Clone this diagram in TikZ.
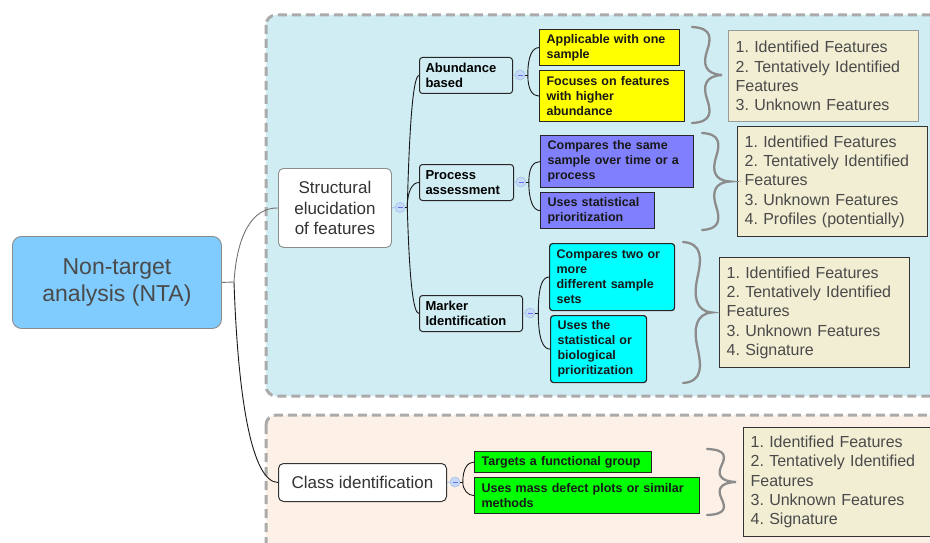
\documentclass[tikz,border=0pt]{standalone}
\usepackage{fontspec}
\setmainfont{Liberation Sans}
\usetikzlibrary{calc}
\frenchspacing
\definecolor{regblue}{HTML}{D0EDF3}
\definecolor{regpeach}{HTML}{FDF0E6}
\definecolor{rootblue}{HTML}{80CCFF}
\definecolor{beige}{HTML}{F1EED3}
\definecolor{ylw}{HTML}{FFFF00}
\definecolor{prp}{HTML}{8080FF}
\definecolor{cyn}{HTML}{00FFFF}
\definecolor{grn}{HTML}{00FF00}
\definecolor{dashgray}{HTML}{ABABAB}
\definecolor{bracegray}{HTML}{8C8C8C}
\definecolor{ctrlblue}{HTML}{C6DAF8}
\definecolor{ctrledge}{HTML}{A3BEEB}
\definecolor{txtgray}{HTML}{4A4A4A}
\newcommand\brc[4]{% x0, top, bot, width
  \draw[bracestyle]
    (#1,#2) .. controls (#1+0.68*#4,#2+0.01*#3-0.01*#2) and (#1+0.64*#4,#2+0.12*#3-0.12*#2) .. (#1+0.5*#4,#2+0.25*#3-0.25*#2)
    .. controls (#1+0.36*#4,#2+0.38*#3-0.38*#2) and (#1+0.42*#4,#2+0.49*#3-0.49*#2) .. (#1+#4,0.5*#2+0.5*#3)
    .. controls (#1+0.42*#4,#2+0.51*#3-0.51*#2) and (#1+0.36*#4,#2+0.62*#3-0.62*#2) .. (#1+0.5*#4,#2+0.75*#3-0.75*#2)
    .. controls (#1+0.64*#4,#2+0.88*#3-0.88*#2) and (#1+0.68*#4,#2+0.99*#3-0.99*#2) .. (#1,#3);}
\begin{document}
\begin{tikzpicture}[x=1pt,y=-1pt,
  region/.style={draw=dashgray, line width=3pt, dash pattern=on 9pt off 5pt, rounded corners=10pt},
  cbox/.style={anchor=north west, inner xsep=7pt, inner ysep=0pt, align=left, draw=black!85, line width=1.2pt,
     font=\bfseries\fontsize{12.5}{15}\selectfont, text=black!90},
  subbox/.style={anchor=north west, inner xsep=6pt, inner ysep=0pt, align=left, draw=black!85, line width=1pt,
     rounded corners=3pt, fill=regblue, font=\bfseries\fontsize{13}{15}\selectfont, text=black},
  result/.style={anchor=north west, inner xsep=7pt, inner ysep=0pt, align=left, fill=beige, line width=1.2pt,
     draw=black!80, font=\fontsize{16}{19.3}\selectfont, text=txtgray},
  ctrl/.style={circle, minimum size=10pt, inner sep=0pt, fill=ctrlblue, draw=ctrledge, line width=0.6pt,
     path picture={\draw[ctrledge!60!blue, line width=0.8pt] ($(path picture bounding box.center)+(-2.5,0)$) -- ($(path picture bounding box.center)+(2.5,0)$);}},
  conn/.style={draw=black!90, line width=0.9pt},
  lead/.style={draw=ctrledge, line width=0.9pt},
  bracestyle/.style={draw=bracegray, line width=2.3pt, line cap=round}]
\useasboundingbox (0,0) rectangle (930,543);
\fill[white] (0,0) rectangle (930,543);
% regions
\draw[region, fill=regblue] (266,15) rectangle (950,396);
\draw[region, fill=regpeach] (266,415) rectangle (950,570);
% main nodes
\node[anchor=north west, minimum width=209pt, minimum height=92pt, inner sep=0pt, fill=rootblue, draw=black!45, line width=0.9pt, rounded corners=9pt, align=center, text=txtgray, font=\fontsize{23}{27}\selectfont] (root) at (12,236) {Non-target\\analysis (NTA)};
\node[anchor=north west, minimum width=113pt, minimum height=79pt, inner sep=0pt, fill=white, draw=black!45, line width=0.9pt, rounded corners=5pt, align=center, text=black!80, font=\fontsize{17}{20.5}\selectfont] (struct) at (278,168) {Structural\\elucidation\\of features};
\node[anchor=north west, minimum width=168pt, minimum height=38pt, inner sep=0pt, fill=white, draw=black!80, line width=1pt, rounded corners=5pt, align=center, text=black!80, font=\fontsize{17}{20.5}\selectfont] (class) at (278,463) {Class identification};
% sub nodes
\node[subbox, text width=81pt, minimum height=36pt] (abund) at (419,57) {Abundance\\based};
\node[subbox, text width=82pt, minimum height=36pt] (proc) at (419,164) {Process\\assessment};
\node[subbox, text width=91pt, minimum height=36pt] (mark) at (419,295) {Marker\\Identification};
% coloured boxes
\node[cbox, fill=ylw, text width=126pt, minimum height=36pt] (y1) at (539,29) {Applicable with one\\sample};
\node[cbox, fill=ylw, text width=131pt, minimum height=51pt] (y2) at (539,70) {Focuses on features\\with higher\\abundance};
\node[cbox, fill=prp, text width=139pt, minimum height=52pt] (p1) at (540,135) {Compares the same\\sample over time or a\\process};
\node[cbox, fill=prp, text width=100pt, minimum height=36pt] (p2) at (540,192) {Uses statistical\\prioritization};
\node[cbox, fill=cyn, rounded corners=3pt, text width=111pt, minimum height=67pt] (c1) at (549,243) {Compares two or\\more\\different sample\\sets};
\node[cbox, fill=cyn, rounded corners=3pt, text width=82pt, minimum height=67pt] (c2) at (550,315) {Uses the\\statistical or\\biological\\prioritization};
\node[cbox, fill=grn, text width=163pt, minimum height=21pt] (g1) at (474,451) {Targets a functional group};
\node[cbox, fill=grn, text width=211pt, minimum height=36pt] (g2) at (474,477) {Uses mass defect plots or similar\\methods};
% result boxes
\node[result, draw=black!40, text width=176pt, minimum height=91pt] (r1) at (728,30) {1. Identified Features\\2. Tentatively Identified\\Features\\3. Unknown Features};
\node[result, text width=176pt, minimum height=110pt] (r2) at (737,126) {1. Identified Features\\2. Tentatively Identified\\Features\\3. Unknown Features\\4. Profiles (potentially)};
\node[result, text width=176pt, minimum height=110pt] (r3) at (719,257) {1. Identified Features\\2. Tentatively Identified\\Features\\3. Unknown Features\\4. Signature};
\node[result, text width=186pt, minimum height=109pt] (r4) at (743,427) {1. Identified Features\\2. Tentatively Identified\\Features\\3. Unknown Features\\4. Signature};
% collapse controls
\node[ctrl] (cst) at (400,207.5) {};
\node[ctrl] (cab) at (520,75) {};
\node[ctrl] (cpr) at (521,182) {};
\node[ctrl] (cmk) at (530,313) {};
\node[ctrl] (ccl) at (455,482) {};
\draw[lead] (struct.east) -- (cst.west);
\draw[lead] (abund.east) -- (cab.west);
\draw[lead] (proc.east) -- (cpr.west);
\draw[lead] (mark.east) -- (cmk.west);
\draw[lead] (class.east) -- (ccl.west);
% junctions
\coordinate (jroot) at (234,282);
\coordinate (jst) at ($(cst.east)+(2,0)$);
\coordinate (jab) at ($(cab.east)+(2.5,0)$);
\coordinate (jpr) at ($(cpr.east)+(2.5,0)$);
\coordinate (jmk) at ($(cmk.east)+(3,0)$);
\coordinate (jcl) at ($(ccl.east)+(2.5,0)$);
% root connectors
\draw[draw=black!55, line width=0.9pt] (root.east) -- (jroot);
\draw[draw=black!55, line width=0.9pt] (jroot) .. controls (237,235) and (252,207.5) .. (struct.west);
\draw[conn] (jroot) .. controls (238,400) and (252,482) .. (class.west);
% structural connectors
\draw[conn] (cst.east) -- (jst);
\draw[conn] (jst) .. controls +(2,-80) and +(-6,0) .. (abund.west);
\draw[conn] (jst) .. controls +(0,-16) and +(-7,0) .. (proc.west);
\draw[conn] (jst) .. controls +(2,70) and +(-6,0) .. (mark.west);
% child connectors
\draw[conn] (cab.east) -- (jab);
\draw[conn] (jab) .. controls +(0,-18) and +(-7,0) .. (y1.west);
\draw[conn] (jab) .. controls +(0,14) and +(-7,0) .. (y2.west);
\draw[conn] (cpr.east) -- (jpr);
\draw[conn] (jpr) .. controls +(0,-14) and +(-7,0) .. (p1.west);
\draw[conn] (jpr) .. controls +(0,18) and +(-7,0) .. (p2.west);
\draw[conn] (cmk.east) -- (jmk);
\draw[conn] (jmk) .. controls +(0,-26) and +(-7,0) .. (c1.west);
\draw[conn] (jmk) .. controls +(0,26) and +(-7,0) .. (c2.west);
\draw[conn] (ccl.east) -- (jcl);
\draw[conn] (jcl) .. controls +(0,-14) and +(-6,0) .. (g1.west);
\draw[conn] (jcl) .. controls +(0,8) and +(-6,0) .. (g2.west);
% braces
\brc{692}{27}{123}{30}
\brc{702}{133}{230}{28}
\brc{683}{242}{383}{29}
\brc{707}{449}{515}{29}
\end{tikzpicture}
\end{document}
